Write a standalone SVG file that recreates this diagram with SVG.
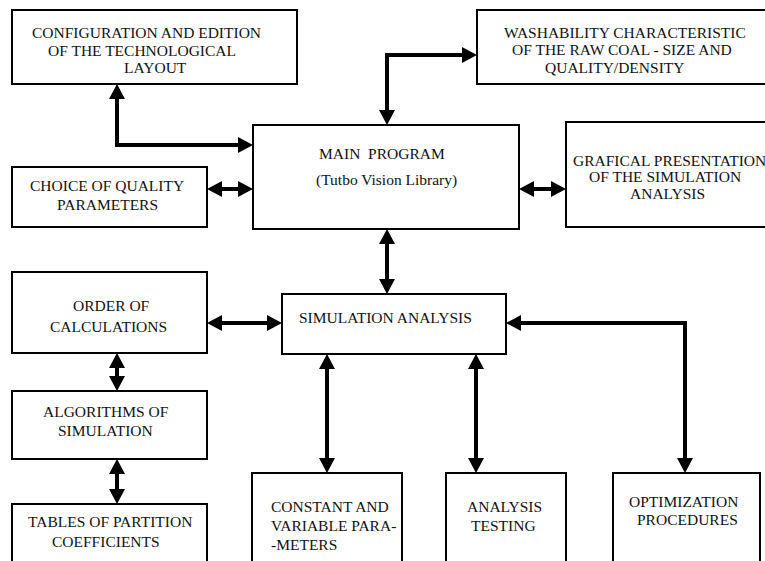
<svg xmlns="http://www.w3.org/2000/svg" width="765" height="561" viewBox="0 0 765 561">
<style>
.box{fill:#fff;stroke:#000;stroke-width:2}
.t{font-family:'Liberation Serif','DejaVu Serif',serif;font-size:15.5px;fill:#111;white-space:pre}
.c{fill:none;stroke:#000;stroke-width:4;marker-start:url(#ah);marker-end:url(#ah)}
</style>
<defs>
<marker id="ah" viewBox="0 0 15 16" markerUnits="userSpaceOnUse" markerWidth="15" markerHeight="16" refX="5" refY="8" orient="auto-start-reverse">
<path d="M0,0 L15,8 L0,16 z" fill="#000"/>
</marker>
</defs>
<rect width="765" height="561" fill="#fff"/>
<g id="connectors">
<path class="c" d="M117,94 V145 H243"/>
<path class="c" d="M467,55 H387 V115"/>
<path class="c" d="M217,189 H243"/>
<path class="c" d="M529,189 H556"/>
<path class="c" d="M387,239 V284"/>
<path class="c" d="M217,323 H272"/>
<path class="c" d="M117,363 V381"/>
<path class="c" d="M117,469 V494"/>
<path class="c" d="M327,364 V463"/>
<path class="c" d="M476,364 V463"/>
<path class="c" d="M516,323 H685 V463"/>
</g>
<g id="config">
<rect class="box" x="12" y="10" width="285" height="74"/>
<text class="t" x="32" y="38">CONFIGURATION AND EDITION</text>
<text class="t" x="48" y="56">OF THE TECHNOLOGICAL</text>
<text class="t" x="124" y="73">LAYOUT</text>
</g>
<g id="washability">
<rect class="box" x="477" y="10" width="300" height="74"/>
<text class="t" x="504" y="38">WASHABILITY CHARACTERISTIC</text>
<text class="t" x="512" y="55">OF THE RAW COAL - SIZE AND</text>
<text class="t" x="545" y="73">QUALITY/DENSITY</text>
</g>
<g id="main">
<rect class="box" x="253" y="125" width="266" height="104"/>
<text class="t" x="319" y="159">MAIN  PROGRAM</text>
<text class="t" x="316" y="185">(Tutbo Vision Library)</text>
</g>
<g id="choice">
<rect class="box" x="12" y="167" width="195" height="60"/>
<text class="t" x="30" y="191">CHOICE OF QUALITY</text>
<text class="t" x="57" y="210">PARAMETERS</text>
</g>
<g id="grafical">
<rect class="box" x="566" y="122" width="210" height="105"/>
<text class="t" x="573" y="166">GRAFICAL PRESENTATION</text>
<text class="t" x="589" y="182">OF THE SIMULATION</text>
<text class="t" x="630" y="199">ANALYSIS</text>
</g>
<g id="order">
<rect class="box" x="12" y="272" width="195" height="81"/>
<text class="t" x="73" y="311">ORDER OF</text>
<text class="t" x="50" y="332">CALCULATIONS</text>
</g>
<g id="simulation">
<rect class="box" x="282" y="294" width="224" height="60"/>
<text class="t" x="299" y="323">SIMULATION ANALYSIS</text>
</g>
<g id="algorithms">
<rect class="box" x="12" y="391" width="195" height="68"/>
<text class="t" x="43" y="417">ALGORITHMS OF</text>
<text class="t" x="58" y="436">SIMULATION</text>
</g>
<g id="tables">
<rect class="box" x="12" y="504" width="195" height="70"/>
<text class="t" x="28" y="527">TABLES OF PARTITION</text>
<text class="t" x="52" y="547">COEFFICIENTS</text>
</g>
<g id="constant">
<rect class="box" x="252" y="473" width="150" height="100"/>
<text class="t" x="271" y="512">CONSTANT AND</text>
<text class="t" x="271" y="531">VARIABLE PARA-</text>
<text class="t" x="271" y="550">-METERS</text>
</g>
<g id="analysis">
<rect class="box" x="446" y="473" width="120" height="100"/>
<text class="t" x="467" y="512">ANALYSIS</text>
<text class="t" x="471" y="531">TESTING</text>
</g>
<g id="optimization">
<rect class="box" x="613" y="473" width="147" height="100"/>
<text class="t" x="629" y="507">OPTIMIZATION</text>
<text class="t" x="637" y="525">PROCEDURES</text>
</g>
</svg>
